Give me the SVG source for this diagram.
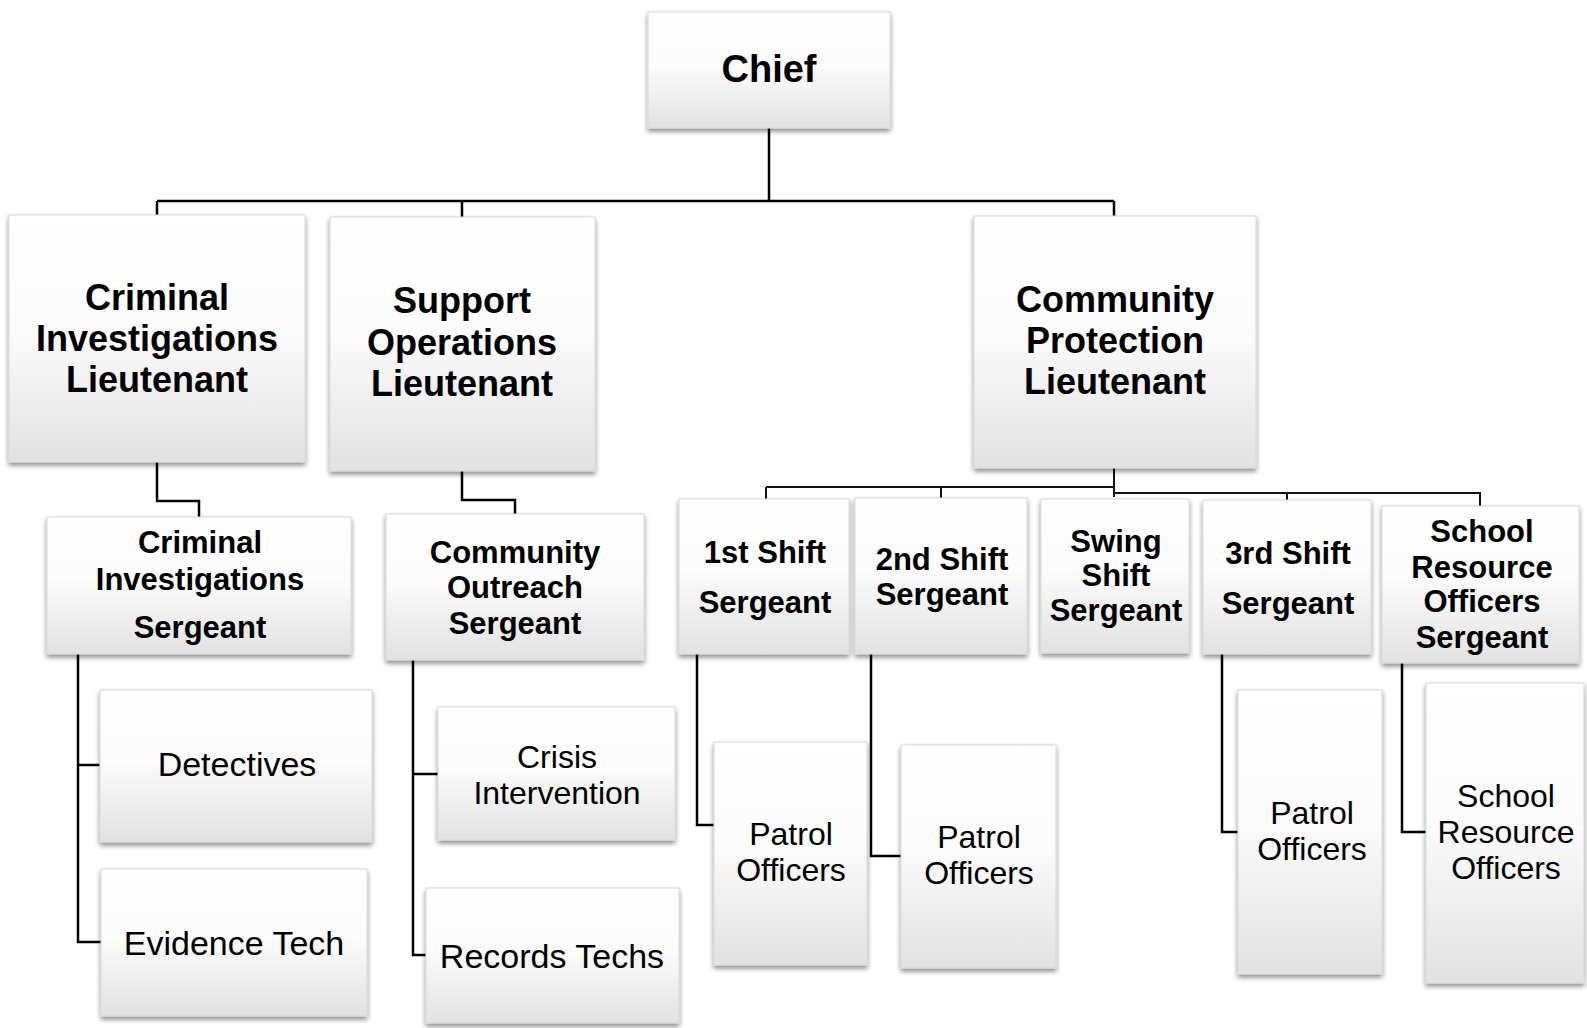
<svg xmlns="http://www.w3.org/2000/svg" width="1587" height="1028" viewBox="0 0 1587 1028">
<defs>
<linearGradient id="g" x1="0" y1="0" x2="0" y2="1">
<stop offset="0" stop-color="#ffffff"/>
<stop offset="0.45" stop-color="#fcfcfc"/>
<stop offset="1" stop-color="#e2e2e2"/>
</linearGradient>
<filter id="sh" x="-10%" y="-10%" width="120%" height="125%">
<feDropShadow dx="0" dy="3" stdDeviation="2.5" flood-color="#000" flood-opacity="0.45"/>
</filter>
</defs>
<style>
.box{fill:url(#g);stroke:#d8d8d8;stroke-width:1;filter:url(#sh)}
.b{font-family:"Liberation Sans",Arial,sans-serif;font-weight:bold;fill:#000;text-anchor:middle}
.r{font-family:"Liberation Sans",Arial,sans-serif;font-weight:normal;fill:#000;text-anchor:middle;font-size:34px}
.m{font-size:32px}
.lt{font-size:36px}
.sg{font-size:31px}
.c{fill:none;stroke:#000;stroke-width:2.5}
.c2{fill:none;stroke:#111;stroke-width:2}
</style>
<rect width="1587" height="1028" fill="#fff"/>
<g id="connectors">
<path class="c" d="M769 128V201M157 201H1114M157 201V215M462 201V217M1114 201V216"/>
<path class="c" d="M157 462V501H199V517"/>
<path class="c" d="M462 471V500H515V514"/>
<path class="c2" d="M1114 468V497M766 487H1114M766 487V499M941 487V498M1114 493H1480V506M1287 493V500"/>
<path class="c" d="M78 654V942H101M78 765H100"/>
<path class="c" d="M413 660V955H426M413 774H438"/>
<path class="c" d="M697 654V825H714"/>
<path class="c" d="M871 654V856H901"/>
<path class="c" d="M1222 654V832H1238"/>
<path class="c" d="M1402 663V832H1426"/>
</g>
<g id="chief"><rect class="box" x="648" y="12" width="242" height="116"/><text class="b" x="769" y="82" font-size="38">Chief</text></g>
<g id="ci-lt"><rect class="box" x="9" y="215" width="296" height="247"/><text class="b lt" x="157" y="310">Criminal</text><text class="b lt" x="157" y="351">Investigations</text><text class="b lt" x="157" y="392">Lieutenant</text></g>
<g id="so-lt"><rect class="box" x="330" y="217" width="265" height="254"/><text class="b lt" x="462" y="313">Support</text><text class="b lt" x="462" y="355">Operations</text><text class="b lt" x="462" y="396">Lieutenant</text></g>
<g id="cp-lt"><rect class="box" x="974" y="216" width="282" height="252"/><text class="b lt" x="1115" y="312">Community</text><text class="b lt" x="1115" y="353">Protection</text><text class="b lt" x="1115" y="394">Lieutenant</text></g>
<g id="ci-sgt"><rect class="box" x="47" y="517" width="304" height="137"/><text class="b sg" x="200" y="553">Criminal</text><text class="b sg" x="200" y="590">Investigations</text><text class="b sg" x="200" y="638">Sergeant</text></g>
<g id="co-sgt"><rect class="box" x="386" y="514" width="258" height="146"/><text class="b sg" x="515" y="563">Community</text><text class="b sg" x="515" y="598">Outreach</text><text class="b sg" x="515" y="634">Sergeant</text></g>
<g id="shift1"><rect class="box" x="679" y="499" width="170" height="155"/><text class="b sg" x="765" y="563">1st Shift</text><text class="b sg" x="765" y="613">Sergeant</text></g>
<g id="shift2"><rect class="box" x="855" y="498" width="172" height="156"/><text class="b sg" x="942" y="570">2nd Shift</text><text class="b sg" x="942" y="605">Sergeant</text></g>
<g id="swing"><rect class="box" x="1041" y="499" width="148" height="154"/><text class="b sg" x="1116" y="552">Swing</text><text class="b sg" x="1116" y="586">Shift</text><text class="b sg" x="1116" y="621">Sergeant</text></g>
<g id="shift3"><rect class="box" x="1203" y="500" width="168" height="154"/><text class="b sg" x="1288" y="564">3rd Shift</text><text class="b sg" x="1288" y="614">Sergeant</text></g>
<g id="sro-sgt"><rect class="box" x="1382" y="506" width="197" height="157"/><text class="b sg" x="1482" y="542">School</text><text class="b sg" x="1482" y="578">Resource</text><text class="b sg" x="1482" y="612">Officers</text><text class="b sg" x="1482" y="648">Sergeant</text></g>
<g id="detectives"><rect class="box" x="100" y="690" width="272" height="152"/><text class="r" x="237" y="776">Detectives</text></g>
<g id="evidence"><rect class="box" x="101" y="869" width="266" height="147"/><text class="r" x="234" y="955">Evidence Tech</text></g>
<g id="crisis"><rect class="box" x="438" y="707" width="237" height="133"/><text class="r m" x="557" y="768">Crisis</text><text class="r m" x="557" y="804">Intervention</text></g>
<g id="records"><rect class="box" x="426" y="888" width="253" height="135"/><text class="r" x="552" y="968">Records Techs</text></g>
<g id="patrol1"><rect class="box" x="714" y="742" width="153" height="223"/><text class="r m" x="791" y="845">Patrol</text><text class="r m" x="791" y="881">Officers</text></g>
<g id="patrol2"><rect class="box" x="901" y="745" width="155" height="223"/><text class="r m" x="979" y="848">Patrol</text><text class="r m" x="979" y="884">Officers</text></g>
<g id="patrol3"><rect class="box" x="1238" y="690" width="144" height="284"/><text class="r m" x="1312" y="824">Patrol</text><text class="r m" x="1312" y="860">Officers</text></g>
<g id="sro"><rect class="box" x="1426" y="683" width="158" height="300"/><text class="r m" x="1506" y="807">School</text><text class="r m" x="1506" y="843">Resource</text><text class="r m" x="1506" y="879">Officers</text></g>
</svg>
